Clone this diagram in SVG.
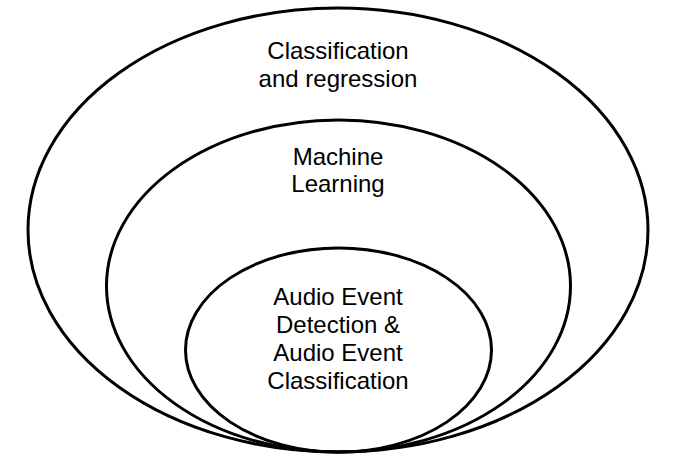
<svg xmlns="http://www.w3.org/2000/svg" width="680" height="463" viewBox="0 0 680 463">
<style>
.e{fill:none;stroke:#000;stroke-width:3}
.t{font-family:"Liberation Sans",Arial,sans-serif;font-size:24px;fill:#000;text-anchor:middle}
</style>
<rect width="680" height="463" fill="#fff"/>
<g id="outer">
<ellipse class="e" cx="338" cy="230" rx="310" ry="222"/>
<text class="t" x="338" y="59">Classification</text>
<text class="t" x="338" y="87">and regression</text>
</g>
<g id="middle">
<ellipse class="e" cx="338.5" cy="286" rx="232" ry="166"/>
<text class="t" x="338" y="165">Machine</text>
<text class="t" x="338" y="192">Learning</text>
</g>
<g id="inner">
<ellipse class="e" cx="338.5" cy="350" rx="153" ry="102"/>
<text class="t" x="338" y="305">Audio Event</text>
<text class="t" x="338" y="333">Detection &amp;</text>
<text class="t" x="338" y="361">Audio Event</text>
<text class="t" x="338" y="389">Classification</text>
</g>
<g id="connectors"/>
</svg>
